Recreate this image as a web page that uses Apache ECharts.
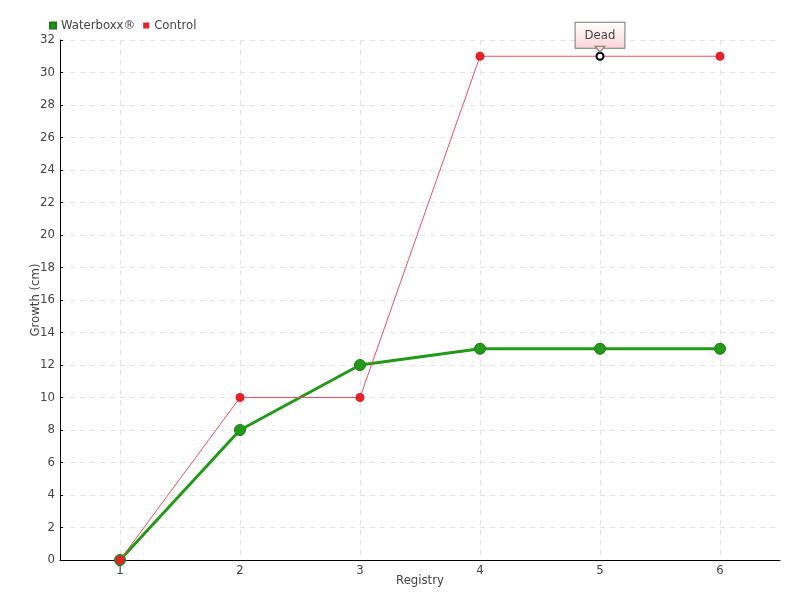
<!DOCTYPE html>
<html><head><meta charset="utf-8">
<script src="https://cdn.jsdelivr.net/npm/echarts@6/dist/echarts.min.js"></script>
<style>html,body{margin:0;padding:0;background:#fff}#c{width:800px;height:600px}</style>
</head><body><div id="c"></div>
<script>
const categories = ['1','2','3','4','5','6'];
const waterboxx = [0, 8, 12, 13, 13, 13];
const control = [0, 10, 10, 31, 31, 31];
const deadIndex = 4;
const deadLabel = 'Dead';

const FONT = 'DejaVu Sans Condensed, DejaVu Sans, sans-serif';
const chart = echarts.init(document.getElementById('c'));
const controlData = control.map((v, i) => i === deadIndex ? {
  value: v,
  symbolSize: 7,
  itemStyle: {color: '#fff', borderColor: '#000', borderWidth: 2},
  label: {
    show: true, position: 'top', distance: 4, formatter: deadLabel,
    color: '#444', fontFamily: FONT, fontSize: 13,
    padding: [6, 9, 6, 9], borderColor: '#777', borderWidth: 1,
    backgroundColor: {type: 'linear', x: 0, y: 0, x2: 0, y2: 1,
      colorStops: [{offset: 0, color: '#fff'}, {offset: 1, color: '#fcd4d4'}]}
  }
} : v);

chart.setOption({
  animation: false,
  textStyle: {fontFamily: FONT},
  legend: {
    left: 44, top: 14, itemWidth: 6, itemHeight: 6, itemGap: 8,
    textStyle: {color: '#444', fontSize: 13, fontFamily: FONT},
    data: [{name: 'Waterboxx®', icon: 'rect'}, {name: 'Control', icon: 'rect'}]
  },
  grid: {left: 60, right: 20, top: 40, bottom: 40, containLabel: false},
  xAxis: {
    type: 'category', data: categories, boundaryGap: true,
    name: 'Registry', nameLocation: 'middle', nameGap: 14, nameMoveOverlap: false,
    nameTextStyle: {color: '#444', fontSize: 13, fontFamily: FONT},
    axisLine: {lineStyle: {color: '#000', width: 1}},
    axisTick: {show: false, alignWithLabel: true},
    axisLabel: {color: '#444', fontSize: 13, margin: 4, fontFamily: FONT},
    splitLine: {show: true, alignWithLabel: true, lineStyle: {color: '#e2e2e2', type: [5, 5]}}
  },
  yAxis: {
    type: 'value', min: 0, max: 32, interval: 2,
    name: 'Growth (cm)', nameLocation: 'middle', nameGap: 18, nameRotate: 90, nameMoveOverlap: false,
    nameTextStyle: {color: '#444', fontSize: 13, fontFamily: FONT},
    axisLine: {show: true, lineStyle: {color: '#000', width: 1}},
    axisTick: {show: true, inside: true, length: 3, lineStyle: {color: '#000'}},
    axisLabel: {color: '#444', fontSize: 13, margin: 5, fontFamily: FONT},
    splitLine: {show: true, lineStyle: {color: '#e2e2e2', type: [5, 5]}}
  },
  series: [
    {
      name: 'Waterboxx®', type: 'line', data: waterboxx, z: 2,
      symbol: 'circle', symbolSize: 11,
      lineStyle: {color: '#23991a', width: 3},
      itemStyle: {color: '#23991a', borderColor: '#1a7a14', borderWidth: 1}
    },
    {
      name: 'Control', type: 'line', data: controlData, z: 3,
      symbol: 'circle', symbolSize: 9,
      lineStyle: {color: '#f0505e', width: 1},
      itemStyle: {color: '#e8202a'},
      markPoint: {
        silent: true, symbol: 'triangle', symbolRotate: 180, symbolSize: [10, 6],
        symbolOffset: [0, -7],
        itemStyle: {color: '#fcd4d4', borderColor: '#777', borderWidth: 1},
        label: {show: false},
        data: [{coord: [deadIndex, control[deadIndex]]}]
      }
    }
  ]
});
</script></body></html>
